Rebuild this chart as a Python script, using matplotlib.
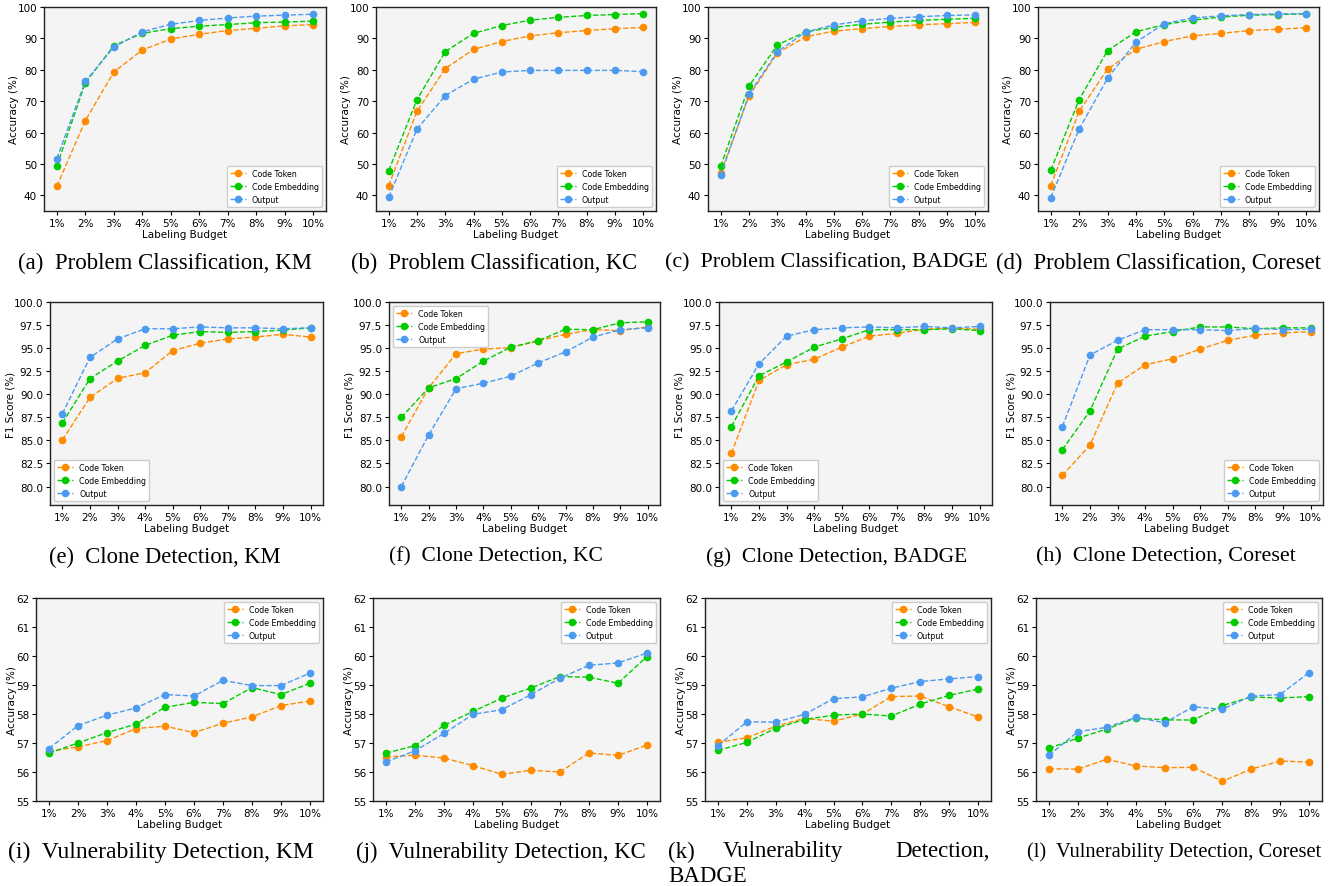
import matplotlib
matplotlib.use('Agg')
import matplotlib.pyplot as plt
import numpy as np

W, H = 1336, 887

budgets = ['1%', '2%', '3%', '4%', '5%', '6%', '7%', '8%', '9%', '10%']
series_names = ['Code Token', 'Code Embedding', 'Output']
colors = ['#ff8c00', '#00cc00', '#4c9bf0']

# problem classification (accuracy)
pc_km_token = [42.9, 63.8, 79.3, 86.3, 89.8, 91.3, 92.5, 93.2, 94.0, 94.4]
pc_km_embed = [49.4, 75.8, 87.7, 91.6, 93.1, 93.9, 94.4, 95.0, 95.2, 95.5]
pc_km_output = [51.7, 76.3, 87.2, 92.1, 94.5, 95.7, 96.5, 97.1, 97.4, 97.7]

pc_kc_token = [43.1, 66.8, 80.4, 86.5, 89.0, 90.8, 91.8, 92.5, 93.1, 93.5]
pc_kc_embed = [47.9, 70.5, 85.8, 91.6, 94.1, 95.8, 96.7, 97.3, 97.6, 97.9]
pc_kc_output = [39.4, 61.1, 71.8, 77.0, 79.3, 79.8, 79.8, 79.8, 79.8, 79.4]

pc_badge_token = [47.2, 71.6, 85.3, 90.5, 92.3, 93.1, 93.8, 94.3, 94.7, 95.1]
pc_badge_embed = [49.3, 74.8, 87.9, 92.1, 93.5, 94.5, 95.2, 95.7, 96.1, 96.4]
pc_badge_output = [46.4, 72.2, 85.7, 92.0, 94.3, 95.6, 96.4, 96.9, 97.3, 97.5]

pc_core_token = [43.1, 66.8, 80.2, 86.5, 89.0, 90.8, 91.6, 92.5, 92.9, 93.4]
pc_core_embed = [48.0, 70.5, 86.1, 92.1, 94.4, 95.8, 96.8, 97.4, 97.6, 97.8]
pc_core_output = [39.3, 61.1, 77.3, 88.8, 94.7, 96.5, 97.2, 97.6, 97.8, 97.9]

# clone detection (F1)
cd_km_token = [85.05, 89.66, 91.72, 92.34, 94.74, 95.54, 96.0, 96.2, 96.5, 96.2]
cd_km_embed = [86.9, 91.7, 93.6, 95.3, 96.4, 96.8, 96.7, 96.8, 96.95, 97.2]
cd_km_output = [87.9, 94.0, 96.0, 97.1, 97.1, 97.3, 97.2, 97.2, 97.1, 97.2]

cd_kc_token = [85.4, 90.7, 94.4, 94.9, 95.05, 95.8, 96.5, 97.0, 96.9, 97.3]
cd_kc_embed = [87.5, 90.7, 91.7, 93.6, 95.1, 95.8, 97.05, 97.0, 97.75, 97.85]
cd_kc_output = [80.0, 85.6, 90.6, 91.2, 91.96, 93.4, 94.6, 96.2, 97.0, 97.2]

cd_badge_token = [83.6, 91.5, 93.2, 93.8, 95.1, 96.3, 96.6, 97.05, 97.15, 97.05]
cd_badge_embed = [86.5, 92.0, 93.5, 95.1, 96.0, 97.0, 97.0, 97.0, 97.1, 96.9]
cd_badge_output = [88.2, 93.3, 96.3, 97.0, 97.2, 97.3, 97.2, 97.35, 97.2, 97.35]

cd_core_token = [81.2, 84.5, 91.2, 93.2, 93.85, 94.9, 95.85, 96.4, 96.65, 96.8]
cd_core_embed = [84.0, 88.2, 94.9, 96.3, 96.8, 97.3, 97.3, 97.1, 97.2, 97.2]
cd_core_output = [86.5, 94.25, 95.85, 97.0, 97.0, 97.0, 96.9, 97.15, 97.0, 97.05]

# vulnerability detection (accuracy)
vd_km_token = [56.71, 56.87, 57.08, 57.50, 57.58, 57.36, 57.68, 57.90, 58.29, 58.45]
vd_km_embed = [56.65, 57.0, 57.36, 57.65, 58.23, 58.40, 58.36, 58.91, 58.67, 59.06]
vd_km_output = [56.81, 57.6, 57.96, 58.21, 58.67, 58.62, 59.16, 58.98, 58.98, 59.41]

vd_kc_token = [56.52, 56.58, 56.48, 56.22, 55.92, 56.06, 56.0, 56.66, 56.57, 56.93]
vd_kc_embed = [56.65, 56.91, 57.61, 58.09, 58.55, 58.90, 59.29, 59.27, 59.06, 59.98]
vd_kc_output = [56.35, 56.73, 57.33, 57.99, 58.15, 58.67, 59.23, 59.68, 59.76, 60.1]

vd_badge_token = [57.02, 57.18, 57.58, 57.85, 57.75, 58.0, 58.60, 58.62, 58.25, 57.9]
vd_badge_embed = [56.75, 57.02, 57.51, 57.81, 57.96, 58.0, 57.93, 58.34, 58.64, 58.86]
vd_badge_output = [56.91, 57.73, 57.72, 57.99, 58.53, 58.59, 58.89, 59.12, 59.21, 59.29]

vd_core_token = [56.11, 56.1, 56.44, 56.21, 56.15, 56.16, 55.68, 56.1, 56.38, 56.34]
vd_core_embed = [56.82, 57.17, 57.48, 57.86, 57.80, 57.79, 58.29, 58.59, 58.55, 58.60]
vd_core_output = [56.58, 57.39, 57.54, 57.88, 57.70, 58.25, 58.16, 58.62, 58.67, 59.43]

captions = [
    '(a)  Problem Classification, KM', '(b)  Problem Classification, KC',
    '(c)  Problem Classification, BADGE', '(d)  Problem Classification, Coreset',
    '(e)  Clone Detection, KM', '(f)  Clone Detection, KC',
    '(g)  Clone Detection, BADGE', '(h)  Clone Detection, Coreset',
    '(i)  Vulnerability Detection, KM', '(j)  Vulnerability Detection, KC',
    None, '(l)  Vulnerability Detection, Coreset',
]

panels = [
    (pc_km_token, pc_km_embed, pc_km_output),
    (pc_kc_token, pc_kc_embed, pc_kc_output),
    (pc_badge_token, pc_badge_embed, pc_badge_output),
    (pc_core_token, pc_core_embed, pc_core_output),
    (cd_km_token, cd_km_embed, cd_km_output),
    (cd_kc_token, cd_kc_embed, cd_kc_output),
    (cd_badge_token, cd_badge_embed, cd_badge_output),
    (cd_core_token, cd_core_embed, cd_core_output),
    (vd_km_token, vd_km_embed, vd_km_output),
    (vd_kc_token, vd_kc_embed, vd_kc_output),
    (vd_badge_token, vd_badge_embed, vd_badge_output),
    (vd_core_token, vd_core_embed, vd_core_output),
]

# axes boxes in pixels: left, right, top, bottom
boxes = [
    (44, 326, 8, 212), (376, 656, 8, 212), (708, 988, 8, 212), (1038, 1319, 8, 212),
    (50, 323, 303, 506), (389, 660, 303, 506), (719, 992, 303, 506), (1050, 1323, 303, 506),
    (36, 323, 599, 802), (373, 660, 599, 802), (705, 991, 599, 802), (1036, 1322, 599, 802),
]
# caption extents in pixels (left, right) and vertical centre
cap_span = [(18, 311), (352, 637), (665, 988), (997, 1321),
            (49, 281), (390, 602), (707, 967), (1036, 1296),
            (8, 313), (357, 645), None, (1027, 1321)]
cap_y = [263, 263, 263, 263, 557, 557, 557, 557, 852, 852, 852, 852]
ylabel_off = [25, 34, 19]  # px left of axes, per row
legend_loc = ['lower right'] * 4 + ['lower left', 'upper left', 'lower left', 'lower right'] + ['upper right'] * 4
cap_font = dict(family='Liberation Serif', fontsize=16.5, va='center')

fig = plt.figure(figsize=(W / 100, H / 100), dpi=100)
renderer = fig.canvas.get_renderer()
x = np.arange(1, 11)

for i, (data, box) in enumerate(zip(panels, boxes)):
    l, r, t, b = box
    ax = fig.add_axes([l / W, 1 - b / H, (r - l) / W, (b - t) / H])
    ax.set_facecolor('#f4f4f4')
    for vals, name, c in zip(data, series_names, colors):
        ax.plot(x, vals, '--', marker='o', color=c, label=name, lw=1, ms=4.5)
    ax.set_xticks(x)
    ax.set_xticklabels(budgets)
    row = i // 4
    if row == 0:
        ax.set_ylim(35, 100)
        ax.set_yticks(np.arange(40, 101, 10))
        ax.set_ylabel('Accuracy (%)', fontsize=7.5)
    elif row == 1:
        ax.set_ylim(78, 100)
        ax.set_yticks(np.arange(80, 100.1, 2.5))
        ax.set_yticklabels(['%.1f' % v for v in np.arange(80, 100.1, 2.5)])
        ax.set_ylabel('F1 Score (%)', fontsize=7.5)
    else:
        ax.set_ylim(55, 62)
        ax.set_yticks(np.arange(55, 63, 1))
        ax.set_ylabel('Accuracy (%)', fontsize=7.5)
    ax.yaxis.set_label_coords(-ylabel_off[row] / (r - l), 0.5)
    ax.set_xlabel('Labeling Budget', fontsize=7.5, labelpad=1)
    ax.tick_params(labelsize=7.5, length=3, pad=2)
    for s in ax.spines.values():
        s.set_color('#222222')
        s.set_linewidth(1)
    ax.legend(loc=legend_loc[i], fontsize=5.7, framealpha=1, edgecolor='#cccccc')
    if captions[i] is not None:
        cl, cr = cap_span[i]
        txt = fig.text((cl + cr) / 2 / W, 1 - cap_y[i] / H, captions[i], ha='center', **cap_font)
        wpx = txt.get_window_extent(renderer).width
        size = 16.5 * (cr - cl) / wpx
        txt.set_fontsize(min(max(size, 14.5), 17))

# caption (k) is justified over two lines
fig.text(668 / W, 1 - 852 / H, '(k)', ha='left', **cap_font)
fig.text(723 / W, 1 - 852 / H, 'Vulnerability', ha='left', **cap_font)
fig.text(990 / W, 1 - 852 / H, 'Detection,', ha='right', **cap_font)
fig.text(668 / W, 1 - 877 / H, 'BADGE', ha='left', **cap_font)

fig.savefig('out.png', dpi=100)
